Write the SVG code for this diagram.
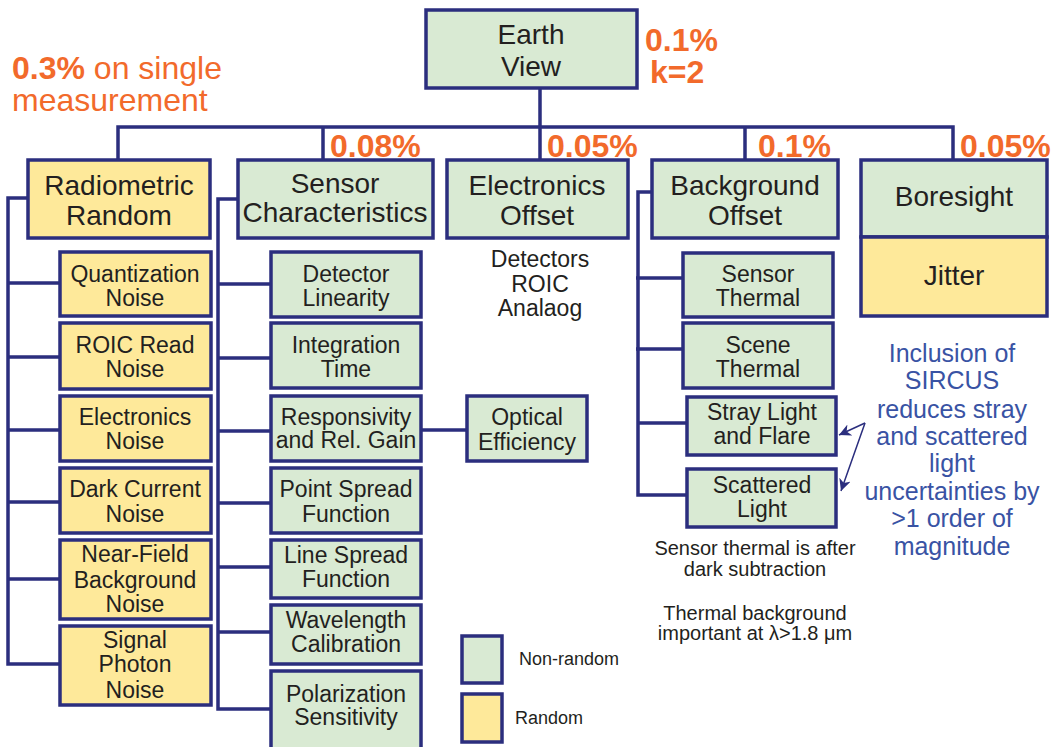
<svg xmlns="http://www.w3.org/2000/svg" width="1051" height="747" viewBox="0 0 1051 747">
<style>
.g{fill:#d9ead3;stroke:#2b2e7e;stroke-width:3.5}
.y{fill:#fee99a;stroke:#2b2e7e;stroke-width:3.5}
.t{font-family:"Liberation Sans",Arial,sans-serif;fill:#231f20;text-anchor:middle}
.h{font-size:28px}
.c{font-size:23px}
.o{font-family:"Liberation Sans",Arial,sans-serif;fill:#f26a2b;font-weight:bold;font-size:32px}
.b{font-family:"Liberation Sans",Arial,sans-serif;fill:#3953a4;font-size:25px;text-anchor:middle}
.s{font-family:"Liberation Sans",Arial,sans-serif;fill:#231f20;font-size:20px;text-anchor:middle}
.l{font-family:"Liberation Sans",Arial,sans-serif;fill:#231f20;font-size:18px}
.k{fill:none;stroke:#2b2e7e;stroke-width:3.5}
.a{fill:none;stroke:#2b2e7e;stroke-width:1.5}
</style>
<defs>
<marker id="ah" markerWidth="12" markerHeight="12" refX="10" refY="5" orient="auto" markerUnits="userSpaceOnUse" viewBox="0 0 10 10">
<path d="M0,0 L10,5 L0,10 L3,5 Z" fill="#2b2e7e"/>
</marker>
</defs>
<g id="connectors">
<path class="k" d="M540,88 V127 M118,160 V127 H953 V160 M323,127 V160 M540,127 V160 M745,127 V160"/>
<path class="k" d="M28,198 H8 V664 H60 M8,283 H60 M8,357 H60 M8,430 H60 M8,502 H60 M8,579 H60"/>
<path class="k" d="M238,199 H218 V709 H271 M218,284 H271 M218,358 H271 M218,431 H271 M218,503 H271 M218,567 H271 M218,632 H271"/>
<path class="k" d="M421,430 H467"/>
<path class="k" d="M652,192 H638 V495 H687 M636,278 H683 M636,349 H683 M638,423 H687"/>
<path class="a" d="M865,423 L839,435" marker-end="url(#ah)"/>
<path class="a" d="M865,423 L841,491" marker-end="url(#ah)"/>
</g>
<g id="earth-view">
<rect class="g" x="426" y="10" width="211" height="78"/>
<text class="t" x="531" y="44" font-size="28">Earth</text>
<text class="t" x="531" y="76" font-size="28">View</text>
</g>
<g id="labels">
<text class="o" x="645" y="51">0.1%</text>
<text class="o" x="650" y="83">k=2</text>
<text x="12" y="79" style="font-family:'Liberation Sans',Arial,sans-serif;fill:#f26a2b;font-size:32px"><tspan font-weight="bold">0.3%</tspan> on single</text>
<text x="12" y="111" style="font-family:'Liberation Sans',Arial,sans-serif;fill:#f26a2b;font-size:32px">measurement</text>
<text class="o" x="330" y="157">0.08%</text>
<text class="o" x="547" y="157">0.05%</text>
<text class="o" x="758" y="157">0.1%</text>
<text class="o" x="960" y="157">0.05%</text>
</g>
<g id="radiometric-random">
<rect class="y" x="28" y="160" width="182" height="78"/>
<text class="t h" x="119" y="195">Radiometric</text>
<text class="t h" x="119" y="225">Random</text>
</g>
<g id="sensor-characteristics">
<rect class="g" x="238" y="160" width="195" height="78"/>
<text class="t h" x="335" y="193">Sensor</text>
<text class="t h" x="335" y="222" font-size="27.5px">Characteristics</text>
</g>
<g id="electronics-offset">
<rect class="g" x="447" y="160" width="181" height="78"/>
<text class="t h" x="537" y="195">Electronics</text>
<text class="t h" x="537" y="225">Offset</text>
<text class="t c" x="540" y="267">Detectors</text>
<text class="t c" x="540" y="292">ROIC</text>
<text class="t c" x="540" y="316">Analaog</text>
</g>
<g id="background-offset">
<rect class="g" x="652" y="160" width="186" height="78"/>
<text class="t h" x="745" y="195">Background</text>
<text class="t h" x="745" y="225">Offset</text>
</g>
<g id="boresight">
<rect class="g" x="861" y="160" width="186" height="77"/>
<text class="t h" x="954" y="206">Boresight</text>
</g>
<g id="jitter">
<rect class="y" x="861" y="237" width="186" height="79"/>
<text class="t h" x="954" y="285">Jitter</text>
</g>
<g id="quantization-noise">
<rect class="y" x="60" y="252" width="151" height="64"/>
<text class="t c" x="135" y="282">Quantization</text>
<text class="t c" x="135" y="306">Noise</text>
</g>
<g id="roic-read-noise">
<rect class="y" x="60" y="323" width="151" height="66"/>
<text class="t c" x="135" y="353">ROIC Read</text>
<text class="t c" x="135" y="377">Noise</text>
</g>
<g id="electronics-noise">
<rect class="y" x="60" y="396" width="151" height="65"/>
<text class="t c" x="135" y="425">Electronics</text>
<text class="t c" x="135" y="449">Noise</text>
</g>
<g id="dark-current-noise">
<rect class="y" x="60" y="468" width="151" height="65"/>
<text class="t c" x="135" y="497">Dark Current</text>
<text class="t c" x="135" y="522">Noise</text>
</g>
<g id="near-field-noise">
<rect class="y" x="60" y="540" width="151" height="79"/>
<text class="t c" x="135" y="562">Near-Field</text>
<text class="t c" x="135" y="588">Background</text>
<text class="t c" x="135" y="612">Noise</text>
</g>
<g id="signal-photon-noise">
<rect class="y" x="60" y="626" width="151" height="79"/>
<text class="t c" x="135" y="648">Signal</text>
<text class="t c" x="135" y="672">Photon</text>
<text class="t c" x="135" y="698">Noise</text>
</g>
<g id="detector-linearity">
<rect class="g" x="271" y="252" width="150" height="65"/>
<text class="t c" x="346" y="282">Detector</text>
<text class="t c" x="346" y="306">Linearity</text>
</g>
<g id="integration-time">
<rect class="g" x="271" y="323" width="150" height="65"/>
<text class="t c" x="346" y="353">Integration</text>
<text class="t c" x="346" y="377">Time</text>
</g>
<g id="responsivity">
<rect class="g" x="271" y="396" width="150" height="65"/>
<text class="t c" x="346" y="425">Responsivity</text>
<text class="t c" x="346" y="448">and Rel. Gain</text>
</g>
<g id="point-spread">
<rect class="g" x="271" y="468" width="150" height="65"/>
<text class="t c" x="346" y="497">Point Spread</text>
<text class="t c" x="346" y="522">Function</text>
</g>
<g id="line-spread">
<rect class="g" x="271" y="540" width="150" height="58"/>
<text class="t c" x="346" y="563">Line Spread</text>
<text class="t c" x="346" y="587">Function</text>
</g>
<g id="wavelength-calibration">
<rect class="g" x="271" y="605" width="150" height="59"/>
<text class="t c" x="346" y="628">Wavelength</text>
<text class="t c" x="346" y="652">Calibration</text>
</g>
<g id="polarization-sensitivity">
<rect class="g" x="271" y="671" width="150" height="90"/>
<text class="t c" x="346" y="702">Polarization</text>
<text class="t c" x="346" y="725">Sensitivity</text>
</g>
<g id="optical-efficiency">
<rect class="g" x="467" y="396" width="120" height="65"/>
<text class="t c" x="527" y="425">Optical</text>
<text class="t c" x="527" y="450">Efficiency</text>
</g>
<g id="sensor-thermal">
<rect class="g" x="683" y="253" width="150" height="64"/>
<text class="t c" x="758" y="282">Sensor</text>
<text class="t c" x="758" y="306">Thermal</text>
</g>
<g id="scene-thermal">
<rect class="g" x="683" y="323" width="150" height="65"/>
<text class="t c" x="758" y="353">Scene</text>
<text class="t c" x="758" y="377">Thermal</text>
</g>
<g id="stray-light">
<rect class="g" x="687" y="397" width="149" height="58"/>
<text class="t c" x="762" y="420">Stray Light</text>
<text class="t c" x="762" y="444">and Flare</text>
</g>
<g id="scattered-light">
<rect class="g" x="687" y="469" width="149" height="58"/>
<text class="t c" x="762" y="493">Scattered</text>
<text class="t c" x="762" y="517">Light</text>
</g>
<g id="notes">
<text class="b" x="952" y="362">Inclusion of</text>
<text class="b" x="952" y="389">SIRCUS</text>
<text class="b" x="952" y="418">reduces stray</text>
<text class="b" x="952" y="445">and scattered</text>
<text class="b" x="952" y="472">light</text>
<text class="b" x="952" y="500">uncertainties by</text>
<text class="b" x="952" y="527">&gt;1 order of</text>
<text class="b" x="952" y="555">magnitude</text>
<text class="s" x="755" y="555">Sensor thermal is after</text>
<text class="s" x="755" y="576">dark subtraction</text>
<text class="s" x="755" y="620">Thermal background</text>
<text class="s" x="755" y="640">important at λ&gt;1.8 μm</text>
</g>
<g id="legend">
<rect class="g" x="462" y="636" width="40" height="47" stroke-width="2.5"/>
<text class="l" x="519" y="665">Non-random</text>
<rect class="y" x="462" y="694" width="40" height="48" stroke-width="2.5"/>
<text class="l" x="515" y="724">Random</text>
</g>
</svg>
